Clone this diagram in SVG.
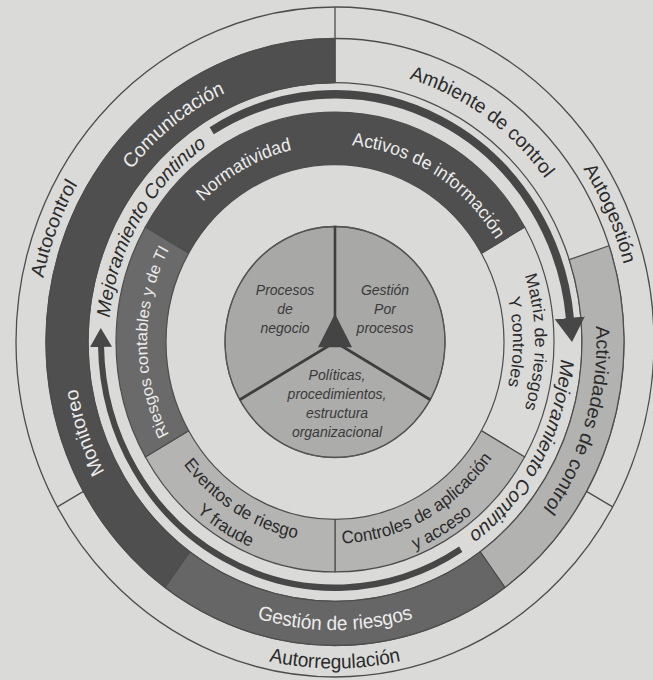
<svg xmlns="http://www.w3.org/2000/svg" width="653" height="680" viewBox="0 0 653 680">
<style>
.ln{fill:none;stroke:#4d4d4d;stroke-width:1.3}
.seg{stroke:#4d4d4d;stroke-width:1.2}
.t{font-family:"Liberation Sans",Arial,sans-serif}
.ring{font-size:19px}
.w{fill:#ececec}
.k{fill:#2b2b2b}
.it{font-style:italic}
.arr{fill:none;stroke:#474747}
</style>
<defs>
<marker id="ah1" markerUnits="userSpaceOnUse" viewBox="0 0 24 30" markerWidth="24" markerHeight="30" refX="1" refY="15" orient="auto"><path d="M0,0 L23,15 L0,30 Z" fill="#474747"/></marker>
<marker id="ah2" markerUnits="userSpaceOnUse" viewBox="0 0 19 22" markerWidth="19" markerHeight="22" refX="1" refY="11" orient="auto"><path d="M0,0 L18,11 L0,22 Z" fill="#474747"/></marker>
<path id="pAutocontrol" d="M -153.47 255.45 A 298 298 0 0 1 56.86 -292.52"/>
<path id="pAutogestion" d="M -72.09 -289.15 A 298 298 0 0 1 166.64 247.04"/>
<path id="pAutorregulacion" d="M -306.27 53.99 A 311 311 0 0 0 306.27 53.99"/>
<path id="pComunicacion" d="M -230.88 122.77 A 261.5 261.5 0 0 1 174.97 -194.32"/>
<path id="pAmbiente" d="M -184.91 -184.91 A 261.5 261.5 0 0 1 237.00 110.51"/>
<path id="pActividades" d="M 118.72 -233.00 A 261.5 261.5 0 0 1 -31.88 259.54"/>
<path id="pMonitoreo" d="M 40.90 258.28 A 261.5 261.5 0 0 1 -126.78 -228.71"/>
<path id="pGestionR" d="M -270.33 47.65 A 274.5 274.5 0 0 0 270.33 47.65"/>
<path id="pNormatividad" d="M -177.75 61.21 A 188 188 0 0 1 146.10 -118.31"/>
<path id="pActivos" d="M -139.70 -125.79 A 188 188 0 0 1 174.31 70.42"/>
<path id="pRiesgosC" d="M -32.64 185.14 A 188 188 0 0 1 -32.64 -185.14"/>
<path id="pMatriz1" d="M 34.73 -196.96 A 200 200 0 0 1 34.73 196.96"/>
<path id="pMatriz2" d="M 30.91 -175.30 A 178 178 0 0 1 30.91 175.30"/>
<path id="pControles1" d="M -150.26 119.52 A 192 192 0 0 0 182.07 -60.92"/>
<path id="pControles2" d="M -160.75 139.75 A 213 213 0 0 0 198.86 -76.34"/>
<path id="pEventos1" d="M -177.10 -71.55 A 191 191 0 0 0 141.93 127.80"/>
<path id="pEventos2" d="M -197.49 -79.79 A 213 213 0 0 0 158.28 142.52"/>
<path id="pMejoraL" d="M -147.70 171.71 A 226.5 226.5 0 0 1 80.07 -211.87"/>
<path id="pMejoraR" d="M 142.54 -176.01 A 226.5 226.5 0 0 1 -73.75 214.16"/>
</defs>
<rect x="0" y="0" width="653" height="680" fill="#dadad8"/>
<g transform="translate(335,342) scale(1,1.05)">
  <g id="outer-ring">
    <circle class="ln" r="319"/>
    <circle class="ln" r="289"/>
    <circle class="ln" r="247"/>
    <line class="ln" x1="0" y1="-247" x2="0" y2="-319" stroke-width="2"/>
    <line class="ln" x1="251.55" y1="142.30" x2="277.66" y2="157.08" stroke-width="2"/>
    <line class="ln" x1="-251.55" y1="142.30" x2="-277.66" y2="157.08" stroke-width="2"/>
  </g>
  <g id="autocontrol"><text class="t ring k"><textPath href="#pAutocontrol" startOffset="50%" text-anchor="middle">Autocontrol</textPath></text></g>
  <g id="autogestion"><text class="t ring k"><textPath href="#pAutogestion" startOffset="50%" text-anchor="middle">Autogestión</textPath></text></g>
  <g id="autorregulacion"><text class="t ring k"><textPath href="#pAutorregulacion" startOffset="50%" text-anchor="middle">Autorregulación</textPath></text></g>

  <g id="comunicacion-monitoreo">
    <path class="seg" fill="#4f4f4f" d="M -169.87 233.80 A 289 289 0 0 1 0 -289 L 0 -247 A 247 247 0 0 0 -145.19 199.82 Z"/>
    <text class="t ring w"><textPath href="#pComunicacion" startOffset="50%" text-anchor="middle">Comunicación</textPath></text>
    <text class="t ring w"><textPath href="#pMonitoreo" startOffset="50%" text-anchor="middle">Monitoreo</textPath></text>
  </g>
  <g id="ambiente-de-control">
    <text class="t ring k"><textPath href="#pAmbiente" startOffset="50%" text-anchor="middle">Ambiente de control</textPath></text>
  </g>
  <g id="actividades-de-control">
    <path class="seg" fill="#b2b2b0" d="M 274.06 -91.70 A 289 289 0 0 1 169.87 233.80 L 145.19 199.82 A 247 247 0 0 0 234.23 -78.37 Z"/>
    <text class="t ring k"><textPath href="#pActividades" startOffset="50%" text-anchor="middle">Actividades de control</textPath></text>
  </g>
  <g id="gestion-de-riesgos">
    <path class="seg" fill="#666666" d="M 169.87 233.80 A 289 289 0 0 1 -169.87 233.80 L -145.19 199.82 A 247 247 0 0 0 145.19 199.82 Z"/>
    <text class="t ring w"><textPath href="#pGestionR" startOffset="50%" text-anchor="middle">Gestión de riesgos</textPath></text>
  </g>

  <g id="normatividad-activos">
    <path class="seg" fill="#4f4f4f" d="M -189.66 -109.5 A 219 219 0 0 1 189.66 -109.5 L 146.36 -84.5 A 169 169 0 0 0 -146.36 -84.5 Z"/>
    <text class="t w" font-size="17.5"><textPath href="#pNormatividad" startOffset="50%" text-anchor="middle">Normatividad</textPath></text>
    <text class="t w" font-size="17.5"><textPath href="#pActivos" startOffset="50%" text-anchor="middle">Activos de información</textPath></text>
  </g>
  <g id="matriz">
    <path class="seg" fill="none" d="M 189.66 -109.5 A 219 219 0 0 1 189.66 109.5 L 146.36 84.5 A 169 169 0 0 0 146.36 -84.5 Z"/>
    <text class="t k" font-size="17"><textPath href="#pMatriz1" startOffset="50%" text-anchor="middle">Matriz de riesgos</textPath></text>
    <text class="t k" font-size="17"><textPath href="#pMatriz2" startOffset="50%" text-anchor="middle">Y controles</textPath></text>
  </g>
  <g id="controles">
    <path class="seg" fill="#b4b4b2" d="M 189.66 109.5 A 219 219 0 0 1 0 219 L 0 169 A 169 169 0 0 0 146.36 84.5 Z"/>
    <text class="t k" font-size="17"><textPath href="#pControles1" startOffset="50%" text-anchor="middle">Controles de aplicación</textPath></text>
    <text class="t k" font-size="17"><textPath href="#pControles2" startOffset="50%" text-anchor="middle">y acceso</textPath></text>
  </g>
  <g id="eventos">
    <path class="seg" fill="#b4b4b2" d="M 0 219 A 219 219 0 0 1 -189.66 109.5 L -146.36 84.5 A 169 169 0 0 0 0 169 Z"/>
    <text class="t k" font-size="17"><textPath href="#pEventos1" startOffset="50%" text-anchor="middle">Eventos de riesgo</textPath></text>
    <text class="t k" font-size="17"><textPath href="#pEventos2" startOffset="50%" text-anchor="middle">Y fraude</textPath></text>
  </g>
  <g id="riesgos-contables">
    <path class="seg" fill="#6a6a6a" d="M -189.66 109.5 A 219 219 0 0 1 -189.66 -109.5 L -146.36 -84.5 A 169 169 0 0 0 -146.36 84.5 Z"/>
    <text class="t w" font-size="16"><textPath href="#pRiesgosC" startOffset="50%" text-anchor="middle">Riesgos contables y de TI</textPath></text>
  </g>

  <g id="connectors">
    <path class="arr" stroke-width="8" marker-end="url(#ah1)" d="M -123.3 -201.2 A 236 236 0 0 1 234.98 -21.97"/>
    <path class="arr" stroke-width="6" marker-end="url(#ah2)" d="M 125.7 197.4 A 234 234 0 0 1 -233.97 3.67"/>
  </g>
  <g id="mejoramiento-continuo">
    <text class="t it k" font-size="19"><textPath href="#pMejoraL" startOffset="50%" text-anchor="middle">Mejoramiento Continuo</textPath></text>
    <text class="t it k" font-size="19"><textPath href="#pMejoraR" startOffset="50%" text-anchor="middle">Mejoramiento Continuo</textPath></text>
  </g>

  <g id="procesos-de-negocio">
    <path fill="#a8a8a6" stroke="#555" stroke-width="1.2" d="M 0 0 L -95.26 55 A 110 110 0 0 1 0 -110 Z"/>
    <text class="t it" fill="#3a3a3a" font-size="14" text-anchor="middle"><tspan x="-50" y="-44.8">Procesos</tspan><tspan x="-50" y="-26.7">de</tspan><tspan x="-50" y="-8.6">negocio</tspan></text>
  </g>
  <g id="gestion-por-procesos">
    <path fill="#a8a8a6" stroke="#555" stroke-width="1.2" d="M 0 0 L 0 -110 A 110 110 0 0 1 95.26 55 Z"/>
    <text class="t it" fill="#3a3a3a" font-size="14" text-anchor="middle"><tspan x="50" y="-44.8">Gestión</tspan><tspan x="50" y="-26.7">Por</tspan><tspan x="50" y="-8.6">procesos</tspan></text>
  </g>
  <g id="politicas">
    <path fill="#acacaa" stroke="#555" stroke-width="1.2" d="M 0 0 L 95.26 55 A 110 110 0 0 1 -95.26 55 Z"/>
    <text class="t it" fill="#3a3a3a" font-size="14" text-anchor="middle"><tspan x="2" y="36.2">Políticas,</tspan><tspan x="2" y="54.3">procedimientos,</tspan><tspan x="2" y="72.4">estructura</tspan><tspan x="2" y="90.5">organizacional</tspan></text>
  </g>
  <g id="pie-lines">
    <circle r="110" fill="none" stroke="#555" stroke-width="1.3"/>
    <line x1="0" y1="0" x2="0" y2="-110" stroke="#3e3e3e" stroke-width="2.6"/>
    <line x1="0" y1="0" x2="95.26" y2="55" stroke="#3e3e3e" stroke-width="2.6"/>
    <line x1="0" y1="0" x2="-95.26" y2="55" stroke="#3e3e3e" stroke-width="2.6"/>
    <polygon points="0,-27 17,5 -17,5" fill="#444"/>
  </g>
</g>
</svg>
